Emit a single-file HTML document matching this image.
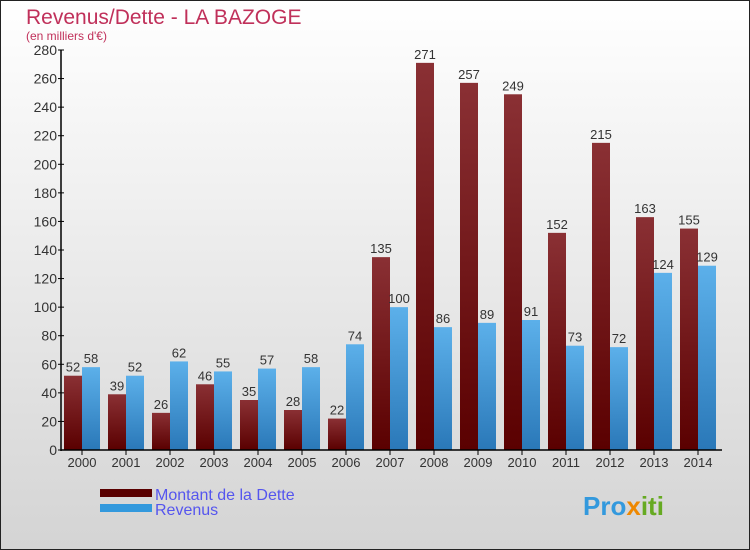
<!DOCTYPE html>
<html><head><meta charset="utf-8"><style>
body{margin:0}
svg{display:block;font-family:"Liberation Sans","DejaVu Sans",sans-serif}
</style></head><body>
<svg width="750" height="550" xmlns="http://www.w3.org/2000/svg" id="chart">
<defs>
<linearGradient id="bg" x1="0" y1="0" x2="0" y2="1"><stop offset="0" stop-color="#ffffff"/><stop offset="1" stop-color="#d4d4d4"/></linearGradient>
<linearGradient id="gd" x1="0" y1="0" x2="0" y2="1"><stop offset="0" stop-color="#8a3034"/><stop offset="1" stop-color="#5a0000"/></linearGradient>
<linearGradient id="gr" x1="0" y1="0" x2="0" y2="1"><stop offset="0" stop-color="#5cb0ea"/><stop offset="1" stop-color="#2a78b8"/></linearGradient>
</defs>
<rect x="0.5" y="0.5" width="749" height="549" fill="url(#bg)" stroke="#222"/>
<text x="26" y="24" font-size="21" fill="#c0305a">Revenus/Dette - LA BAZOGE</text>
<text x="26" y="40" font-size="12" fill="#c0305a">(en milliers d'€)</text>
<g id="plot"></g>
<g>
<rect x="100" y="489" width="52" height="8" fill="#5a0000"/>
<text x="155" y="500" font-size="16" fill="#5555ee">Montant de la Dette</text>
<rect x="100" y="504" width="52" height="8" fill="#3399dd"/>
<text x="155" y="515" font-size="16" fill="#5555ee">Revenus</text>
</g>
<text x="583" y="515" font-size="26" font-weight="bold" fill="#3399dd">Pro<tspan fill="#ee8800">x</tspan><tspan fill="#66aa22">iti</tspan></text>
</svg>
<script>
const years=["2000","2001","2002","2003","2004","2005","2006","2007","2008","2009","2010","2011","2012","2013","2014"];
const dette=[52,39,26,46,35,28,22,135,271,257,249,152,215,163,155];
const revenus=[58,52,62,55,57,58,74,100,86,89,91,73,72,124,129];
const ticks=[0,20,40,60,80,100,120,140,160,180,200,220,240,260,280];
const NS="http://www.w3.org/2000/svg";
const g=document.getElementById('plot');
const x0=62,gw=44,y0=450,ymax=280,ph=400;
const y=v=>y0-v/ymax*ph;
function mk(t,a,txt){const e=document.createElementNS(NS,t);for(const k in a)e.setAttribute(k,a[k]);if(txt!=null)e.textContent=txt;g.appendChild(e);return e;}
ticks.forEach(t=>{
 const l=mk('line',{x1:58,x2:64,y1:y(t),y2:y(t),stroke:'#000'});
 
 
 const tx=mk('text',{x:57,y:y(t)+5,'font-size':14,'text-anchor':'end',fill:'#333'},t);
 
 
});
years.forEach((yr,i)=>{
 const gx=x0+gw*i;
 const b1=mk('rect',{x:gx+2,y:y(dette[i]),width:18,height:y0-y(dette[i]),fill:'url(#gd)'});
 
 
 const b2=mk('rect',{x:gx+20,y:y(revenus[i]),width:18,height:y0-y(revenus[i]),fill:'url(#gr)'});
 
 
 const l1=mk('text',{x:gx+11,y:y(dette[i])-4,'font-size':13,'text-anchor':'middle',fill:'#333'},dette[i]);
 
 
 const l2=mk('text',{x:gx+29,y:y(revenus[i])-4,'font-size':13,'text-anchor':'middle',fill:'#333'},revenus[i]);
 
 
 const xt=mk('line',{x1:gx+20,x2:gx+20,y1:450,y2:455,stroke:'#000'});
 
 
 const xl=mk('text',{x:gx+20,y:467,'font-size':13,'text-anchor':'middle',fill:'#333'},yr);
 
 
});
const ya=mk('line',{x1:61,x2:61,y1:y(280),y2:451,stroke:'#000','stroke-width':1.5});


const xa=mk('line',{x1:61,x2:722,y1:450,y2:450,stroke:'#000','stroke-width':1.5});


</script>
</body></html>
